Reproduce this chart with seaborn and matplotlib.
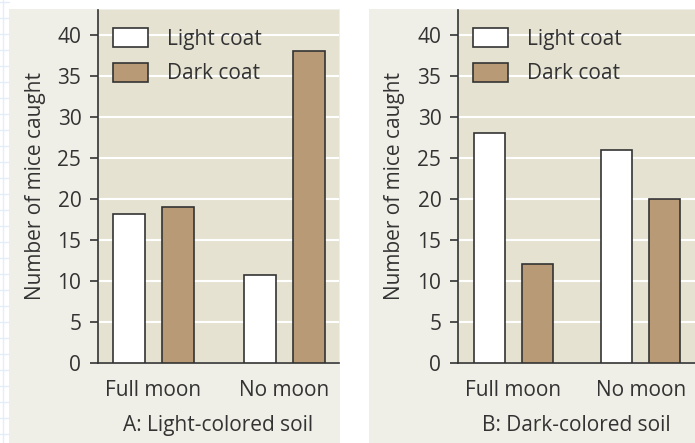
import pandas as pd
import matplotlib.pyplot as plt
import seaborn as sns
from matplotlib.patches import Rectangle
from matplotlib.lines import Line2D

# Data
conditions = ['Full moon', 'No moon']
coats = ['Light coat', 'Dark coat']
light_soil_light = [18.1, 10.7]
light_soil_dark = [19.0, 38.0]
dark_soil_light = [28.0, 26.0]
dark_soil_dark = [12.0, 20.0]
yticks = [0, 5, 10, 15, 20, 25, 30, 35, 40]
panel_titles = ['A: Light-colored soil', 'B: Dark-colored soil']

W, H = 695, 443
PANEL = '#f0efe7'
AXBG = '#e5e2d2'
BROWN = '#b99a77'
DARK = '#333333'
FS = 15

sns.set_theme(style='white')
plt.rcParams['font.family'] = ['Open Sans', 'DejaVu Sans']
plt.rcParams['text.color'] = DARK
plt.rcParams['axes.labelcolor'] = DARK
plt.rcParams['xtick.color'] = DARK
plt.rcParams['ytick.color'] = DARK

fig = plt.figure(figsize=(W / 100, H / 100), dpi=100)
fig.patch.set_facecolor('white')

# faint graph-paper lines at the left margin
fig.add_artist(Line2D([3 / W, 3 / W], [0, 1], color='#e4eefa', lw=1))
for yy in range(2, H, 16):
    fig.add_artist(Line2D([0, 9 / W], [1 - yy / H, 1 - yy / H], color='#e4eefa', lw=1))


def px_rect(x0, y0, x1, y1):
    return [x0 / W, 1 - y1 / H, (x1 - x0) / W, (y1 - y0) / H]


# panel backgrounds
for x0, x1 in [(9, 340), (369, 695)]:
    r = px_rect(x0, 9, x1, H)
    fig.add_artist(Rectangle((r[0], r[1]), r[2], r[3], transform=fig.transFigure,
                             facecolor=PANEL, edgecolor='none', zorder=0))

panels = [
    (px_rect(98, 10, 339, 363), light_soil_light, light_soil_dark, (-0.424, 1.416)),
    (px_rect(458, 10, 695, 363), dark_soil_light, dark_soil_dark, (-0.435, 1.425)),
]

for i, (rect, lvals, dvals, xlim) in enumerate(panels):
    ax = fig.add_axes(rect)
    df = pd.DataFrame({
        'condition': conditions * 2,
        'coat': [coats[0]] * 2 + [coats[1]] * 2,
        'count': lvals + dvals,
    })
    sns.barplot(data=df, x='condition', y='count', hue='coat', order=conditions,
                hue_order=coats, palette={coats[0]: 'white', coats[1]: BROWN},
                saturation=1, edgecolor=DARK, linewidth=1.2, width=0.75, gap=0.35,
                errorbar=None, ax=ax, zorder=3)
    ax.set_facecolor(AXBG)
    ax.set_axisbelow(True)
    ax.yaxis.grid(True, color='white', lw=1.5)
    ax.xaxis.grid(False)
    ax.set_ylim(0, 43)
    ax.set_xlim(*xlim)
    ax.set_yticks(yticks)
    for s in ['top', 'right']:
        ax.spines[s].set_visible(False)
    for s in ['left', 'bottom']:
        ax.spines[s].set_color(DARK)
        ax.spines[s].set_linewidth(1.2)
    ax.tick_params(axis='y', left=True, length=6, width=1.2, pad=6, labelsize=FS)
    ax.tick_params(axis='x', bottom=False, length=0, pad=12, labelsize=FS)
    ax.set_ylabel('Number of mice caught', fontsize=FS)
    ax.yaxis.set_label_coords(-0.215 if i == 0 else -0.222, 0.5)
    ax.set_xlabel(panel_titles[i], fontsize=FS, labelpad=10)
    ax.legend(loc='upper left', bbox_to_anchor=(15 / 241, 1 - 18 / 353),
              frameon=False, fontsize=FS, borderpad=0, borderaxespad=0,
              handlelength=1.68, handleheight=1.05, labelspacing=0.62,
              handletextpad=0.91)

fig.savefig('out.png', dpi=100, facecolor='white')
